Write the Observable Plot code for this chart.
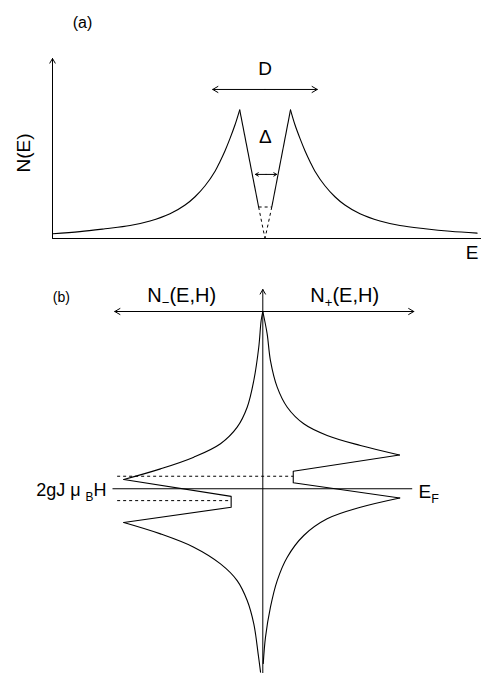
<!DOCTYPE html>
<html><head><meta charset="utf-8">
<script src="https://cdn.jsdelivr.net/npm/d3@7"></script>
<script src="https://cdn.jsdelivr.net/npm/@observablehq/plot@0.6"></script>
<style>
html,body{margin:0;padding:0;background:#fff;}
#chart svg{display:block;}
</style></head><body><div id="chart"></div>
<script>
// ---------- Panel (a): N(E) with gap ----------
const aLeftTailE  = [-9.98,-8.71,-7.53,-6.35,-5.41,-4.47,-3.76,-3.29,-2.82,-2.35,-2.12,-1.88,-1.65,-1.41,-1.19];
const aLeftTailN  = [0.26,0.38,0.54,0.72,0.97,1.37,1.86,2.32,2.93,3.74,4.27,4.88,5.55,6.32,7.15];
const aRightTailE = [1.20,1.41,1.65,1.88,2.12,2.35,2.82,3.29,3.76,4.47,5.41,6.35,7.53,8.71,9.98];
const aRightTailN = [7.15,6.32,5.55,4.88,4.27,3.74,2.93,2.32,1.86,1.37,0.97,0.72,0.54,0.40,0.30];
const aGapE = [-1.19,-0.30,0.32,1.20];   // left peak, gap edge, gap edge, right peak
const aGapN = [7.15,1.75,1.75,7.15];
const aDArrow = {E1:-2.46, E2:2.46, N:8.28};
const aDeltaArrow = {E1:-0.45, E2:0.55, N:3.56};
const aLabels = ["(a)","D","Δ","E","N(E)"];

// ---------- Panel (b): spin-split N±(E,H) ----------
const bPlusUpperN  = [0,0.29,0.51,0.96,1.63,2.73,4.29,6.51,9.11];
const bPlusUpperE  = [12,10.49,8.68,6.88,5.52,4.40,3.61,2.93,2.29];
const bPlusNotchN  = [9.11,2.03,2.03,9.13];
const bPlusNotchE  = [2.29,1.19,0.41,-0.62];
const bPlusLowerN  = [9.13,6.51,4.29,2.73,1.63,0.96,0.51,0.18,0.03];
const bPlusLowerE  = [-0.62,-1.25,-2.03,-3.16,-4.63,-6.21,-8.01,-10.04,-11.82];
const bMinusUpperN = [0,-0.11,-0.27,-0.60,-1.04,-1.71,-2.82,-4.60,-6.82,-9.27];
const bMinusUpperE = [12,11.39,9.58,7.33,5.52,4.17,3.05,2.14,1.35,0.63];
const bMinusNotchN = [-9.27,-2.11,-2.11,-9.27];
const bMinusNotchE = [0.63,-0.51,-1.25,-2.28];
const bMinusLowerN = [-9.27,-6.82,-4.60,-2.82,-1.71,-1.04,-0.60,-0.31,-0.15];
const bMinusLowerE = [-2.28,-3.05,-3.95,-5.08,-6.21,-7.56,-9.14,-11.17,-12.41];
const bDashE    = [0.85,-0.80];
const bDashFrom = [-9.71,-9.71];
const bDashTo   = [2.03,-2.11];
const bFermi = {E:0, N1:-10.02, N2:9.96};
const bAxisH = {E:12, N1:-9.87, N2:10.07};
const bAxisV = {E1:-12.6, E2:13.49};
const bLabels = ["(b)","N_{−}(E,H)","N_{+}(E,H)","2gJ μ _{B}H","E_{F}"];

const FONT = "Liberation Sans, Arial, Helvetica, sans-serif";
const rows = (xs, ys, z) => xs.map((x, i) => ({x, y: ys[i], z}));

function applySubs(svg) {
  d3.select(svg).selectAll("text").each(function() {
    const s = this.textContent;
    if (!s.includes("_{")) return;
    const parts = s.split(/(_\{[^}]*\})/).filter(p => p.length);
    const el = d3.select(this);
    el.text(null);
    let down = false;
    for (const p of parts) {
      if (p.startsWith("_{")) {
        el.append("tspan").attr("dy", 5).attr("font-size", "0.66em").text(p.slice(2, -1));
        down = true;
      } else {
        const t = el.append("tspan").text(p);
        if (down) { t.attr("dy", -5); down = false; }
      }
    }
  });
}

// ---------- Build panel (a) ----------
const aTails = [...rows(aLeftTailE, aLeftTailN, "L"), ...rows(aRightTailE, aRightTailN, "R")];
const aSolid = [
  {x1: aGapE[0], y1: aGapN[0], x2: aGapE[1], y2: aGapN[1]},
  {x1: aGapE[2], y1: aGapN[2], x2: aGapE[3], y2: aGapN[3]}
];
const aDashed = [
  {x1: aGapE[1], y1: aGapN[1], x2: 0, y2: 0},
  {x1: aGapE[2], y1: aGapN[2], x2: 0, y2: 0},
  {x1: aGapE[1], y1: aGapN[1], x2: aGapE[2], y2: aGapN[2]}
];

const plotA = Plot.plot({
  width: 481, height: 270,
  margin: 0,
  style: {fontFamily: FONT, background: "#fff"},
  x: {axis: null, domain: [-10, 10], range: [52, 477]},
  y: {axis: null, domain: [0, 10], range: [238, 58]},
  marks: [
    Plot.arrow([{x1: -10, y1: 0, x2: -10, y2: 10}], {x1: "x1", y1: "y1", x2: "x2", y2: "y2", stroke: "black", strokeWidth: 1, headLength: 8}),
    Plot.link([{x1: -10, y1: 0, x2: 10.3, y2: 0}], {x1: "x1", y1: "y1", x2: "x2", y2: "y2", stroke: "black", strokeWidth: 1.1}),
    Plot.line(aTails, {x: "x", y: "y", z: "z", curve: "catmull-rom", stroke: "black", strokeWidth: 1.1}),
    Plot.link(aSolid, {x1: "x1", y1: "y1", x2: "x2", y2: "y2", stroke: "black", strokeWidth: 1.1}),
    Plot.link(aDashed, {x1: "x1", y1: "y1", x2: "x2", y2: "y2", stroke: "black", strokeWidth: 1, strokeDasharray: "3,3"}),
    Plot.arrow([{x1: 0, x2: aDArrow.E1}, {x1: 0, x2: aDArrow.E2}], {x1: "x1", x2: "x2", y1: () => aDArrow.N, y2: () => aDArrow.N, stroke: "black", strokeWidth: 1, headLength: 9}),
    Plot.arrow([{x1: (aDeltaArrow.E1 + aDeltaArrow.E2) / 2, x2: aDeltaArrow.E1}, {x1: (aDeltaArrow.E1 + aDeltaArrow.E2) / 2, x2: aDeltaArrow.E2}], {x1: "x1", x2: "x2", y1: () => aDeltaArrow.N, y2: () => aDeltaArrow.N, stroke: "black", strokeWidth: 1, headLength: 5}),
    Plot.text([aLabels[0]], {x: () => -8.59, y: () => 11.97, text: d => d, fontSize: 16, fontFamily: FONT}),
    Plot.text([aLabels[1]], {x: () => 0, y: () => 9.43, text: d => d, fontSize: 19, fontFamily: FONT}),
    Plot.text([aLabels[2]], {x: () => 0.02, y: () => 5.63, text: d => d, fontSize: 19, fontFamily: FONT}),
    Plot.text([aLabels[3]], {x: () => 9.45, y: () => -0.81, text: d => d, fontSize: 19, textAnchor: "start", fontFamily: FONT}),
    Plot.text([aLabels[4]], {x: () => -11.35, y: () => 4.75, text: d => d, fontSize: 19, rotate: -90, fontFamily: FONT})
  ]
});

// ---------- Build panel (b) ----------
const bTails = [
  ...rows(bPlusUpperN, bPlusUpperE, "PU"), ...rows(bPlusLowerN, bPlusLowerE, "PL"),
  ...rows(bMinusUpperN, bMinusUpperE, "MU"), ...rows(bMinusLowerN, bMinusLowerE, "ML")
];
const bNotches = [...rows(bPlusNotchN, bPlusNotchE, "P"), ...rows(bMinusNotchN, bMinusNotchE, "M")];
const bDashes = bDashE.map((e, i) => ({x1: bDashFrom[i], x2: bDashTo[i], y1: e, y2: e}));

const plotB = Plot.plot({
  width: 481, height: 403,
  margin: 0,
  style: {fontFamily: FONT, background: "#fff"},
  x: {axis: null, domain: [-10, 10], range: [112.3, 412.3]},
  y: {axis: null, domain: [-12, 12], range: [395.6, 41]},
  marks: [
    Plot.arrow([{x1: 0, y1: bAxisV.E1, x2: 0, y2: bAxisV.E2}], {x1: "x1", y1: "y1", x2: "x2", y2: "y2", stroke: "black", strokeWidth: 1, headLength: 8}),
    Plot.arrow([{x1: 0, x2: bAxisH.N1}, {x1: 0, x2: bAxisH.N2}], {x1: "x1", x2: "x2", y1: () => bAxisH.E, y2: () => bAxisH.E, stroke: "black", strokeWidth: 1, headLength: 9}),
    Plot.link([bFermi], {x1: "N1", x2: "N2", y1: "E", y2: "E", stroke: "black", strokeWidth: 1.1}),
    Plot.link(bDashes, {x1: "x1", x2: "x2", y1: "y1", y2: "y2", stroke: "black", strokeWidth: 1, strokeDasharray: "3,3"}),
    Plot.line(bTails, {x: "x", y: "y", z: "z", curve: "catmull-rom", stroke: "black", strokeWidth: 1.1}),
    Plot.line(bNotches, {x: "x", y: "y", z: "z", curve: "linear", stroke: "black", strokeWidth: 1.1}),
    Plot.text([bLabels[0]], {x: () => -13.43, y: () => 12.97, text: d => d, fontSize: 14, fontFamily: FONT}),
    Plot.text([bLabels[1]], {x: () => -5.41, y: () => 13.08, text: d => d, fontSize: 20, fontFamily: FONT}),
    Plot.text([bLabels[2]], {x: () => 5.46, y: () => 13.08, text: d => d, fontSize: 20, fontFamily: FONT}),
    Plot.text([bLabels[3]], {x: () => -10.42, y: () => -0.12, text: d => d, fontSize: 18, textAnchor: "end", fontFamily: FONT}),
    Plot.text([bLabels[4]], {x: () => 10.38, y: () => -0.22, text: d => d, fontSize: 19, textAnchor: "start", fontFamily: FONT})
  ]
});

applySubs(plotB);
const host = document.getElementById("chart");
host.appendChild(plotA);
host.appendChild(plotB);
</script></body></html>
